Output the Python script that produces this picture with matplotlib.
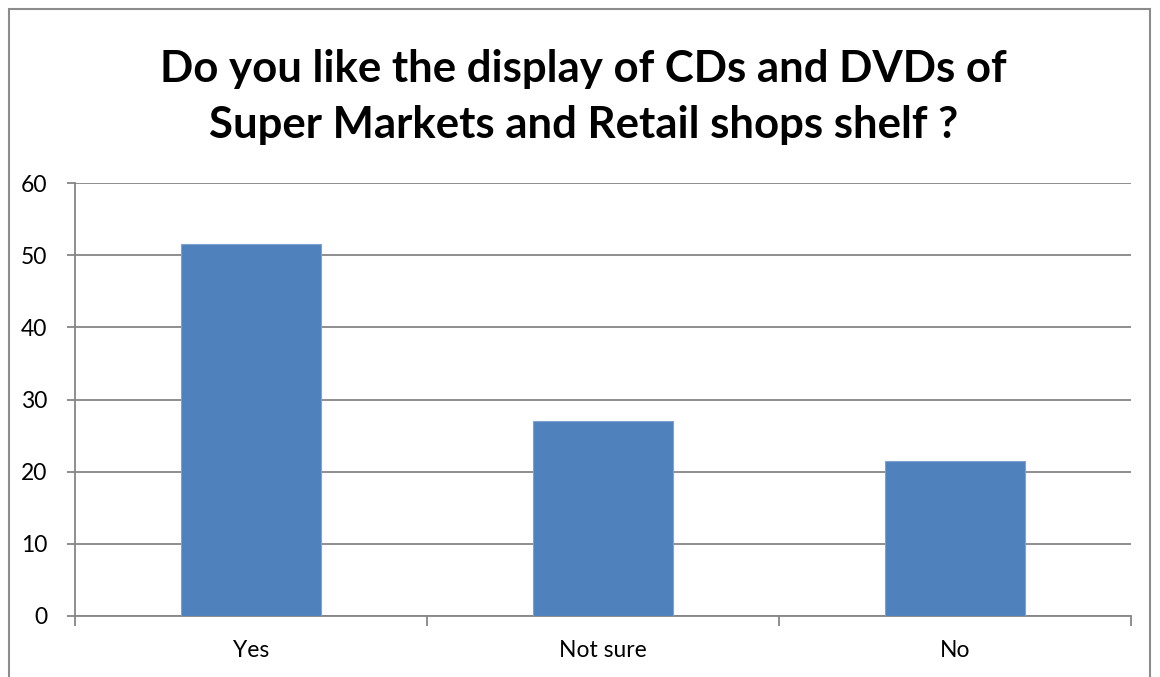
import matplotlib
matplotlib.use("Agg")
import matplotlib.pyplot as plt
from matplotlib.patches import Rectangle

categories = ["Yes", "Not sure", "No"]
percent = [51.5, 27, 21.5]
y_ticks = [0, 10, 20, 30, 40, 50, 60]

title = "Do you like the display of CDs and DVDs of\nSuper Markets and Retail shops shelf ?"

W, H = 1160, 677
fig = plt.figure(figsize=(W / 100, H / 100), dpi=100)
plt.rcParams['font.family'] = ['Lato', 'DejaVu Sans']

# chart border, open at the bottom edge
fig.patches.append(Rectangle((9 / W, -0.05), 1141 / W, 1 - 9 / H + 0.05,
                             transform=fig.transFigure, fill=False,
                             edgecolor="#8c8c8c", linewidth=1.5))

ax = fig.add_axes([75 / W, 1 - 616 / H, 1056 / W, 433 / H])
grid_c = "#868686"

x = range(len(categories))
ax.bar(x, percent, width=0.4, color="#4f81bd", edgecolor="#7ea3d2",
       linewidth=0.8, zorder=3)

ax.set_xlim(-0.5, len(categories) - 0.5)
ax.set_ylim(0, 60)
ax.set_yticks(y_ticks)
ax.set_yticklabels([str(v) for v in y_ticks], fontsize=16.5)
ax.yaxis.grid(True, color=grid_c, linewidth=1.3, zorder=0)

ax.set_xticks(list(x))
ax.set_xticklabels(categories, fontsize=16.5)
ax.tick_params(axis="x", length=0, pad=17)
ax.set_xticks([i - 0.5 for i in range(len(categories) + 1)], minor=True)
ax.tick_params(axis="x", which="minor", length=7, color=grid_c, width=1.3)
ax.tick_params(axis="y", length=6, color=grid_c, width=1.3, pad=14)

for s in ["top", "right"]:
    ax.spines[s].set_visible(False)
for s in ["left", "bottom"]:
    ax.spines[s].set_color(grid_c)
    ax.spines[s].set_linewidth(1.3)

fig.text(0.503, 1 - 97 / H, title, ha="center", va="center",
         fontsize=31.5, fontweight="bold", linespacing=1.5)

fig.savefig("out.png", dpi=100)
